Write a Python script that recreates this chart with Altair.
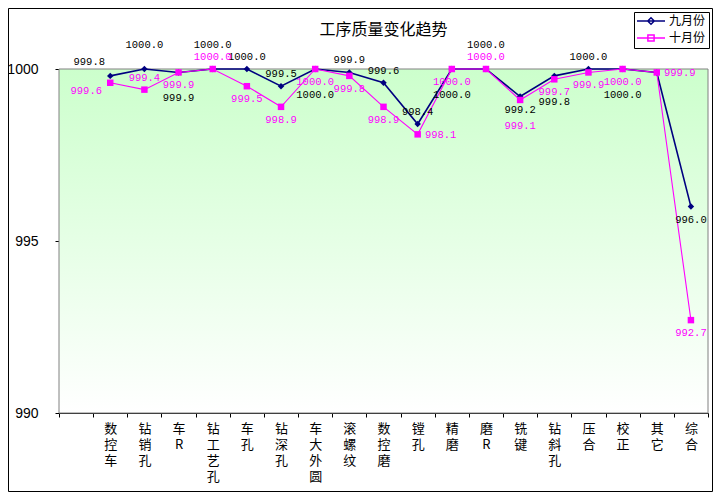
import altair as alt
import pandas as pd

# ---------------- data ----------------
categories = ["数控车", "钻销孔", "车R", "钻工艺孔", "车孔", "钻深孔", "车大外圆", "滚螺纹", "数控磨",
              "镗孔", "精磨", "磨R", "铣键", "钻斜孔", "压合", "校正", "其它", "综合"]
sep_values = [999.8, 1000.0, 999.9, 1000.0, 1000.0, 999.5, 1000.0, 999.9, 999.6,
              998.4, 1000.0, 1000.0, 999.2, 999.8, 1000.0, 1000.0, 999.9, 996.0]
oct_values = [999.6, 999.4, 999.9, 1000.0, 999.5, 998.9, 1000.0, 999.8, 998.9,
              998.1, 1000.0, 1000.0, 999.1, 999.7, 999.9, 1000.0, 999.9, 992.7]
series_names = ["九月份", "十月份"]
y_ticks = [990, 995, 1000]

# label placement codes (style only)
sep_label_pos = ["al", "aa", "bb", "aa", "a", "a", "bb", "a", "a",
                 "a", "bb", "aa", "b", "bb", "a", "bb", "none", "b"]
oct_label_pos = ["l", "a", "b", "a", "b", "b", "b", "b", "b",
                 "r", "b", "a", "bb", "b", "b", "b", "r", "b"]
OFFSETS = {"a": (0, -12), "aa": (0, -24), "b": (0, 13), "bb": (0, 26),
           "al": (-21, -14), "l": (-24, 8), "r": (23, 1)}

COLORS = ["#000080", "#FF00FF"]
LEGEND_SHAPES = [
    "M-2.8,0H2.8M-0.65,0L0,-0.65L0.65,0L0,0.65Z",
    "M-2.8,0H2.8M-0.62,-0.62H0.62V0.62H-0.62Z",
]

rows = []
for s, vals, poss in [(series_names[0], sep_values, sep_label_pos),
                      (series_names[1], oct_values, oct_label_pos)]:
    for c, v, p in zip(categories, vals, poss):
        rows.append({"cat": c, "series": s, "value": v, "label": f"{v:.1f}", "pos": p})
df = pd.DataFrame(rows)

x_domain = [" "] + categories
color_scale = alt.Scale(domain=series_names, range=COLORS)

x_enc = alt.X("cat:N", scale=alt.Scale(type="band", domain=x_domain, paddingInner=0, paddingOuter=0),
              axis=alt.Axis(title=None, labelAngle=0, labelExpr="split(datum.label, '')",
                            labelFont="Noto Sans CJK SC", labelFontSize=13, labelLineHeight=16,
                            labelBaseline="top", labelPadding=5, tickBand="extent",
                            tickSize=4, tickColor="black", domainColor="black",
                            labelColor="black", grid=False))
y_enc = alt.Y("value:Q", scale=alt.Scale(domain=[990, 1000], nice=False, zero=False),
              axis=alt.Axis(title=None, values=y_ticks, format="d", labelFont="Liberation Sans",
                            labelFontSize=14, labelPadding=17, tickSize=4, tickColor="black",
                            domainColor="black", labelColor="black", grid=False))

base = alt.Chart(df)

# background plot area with gradient
bg = alt.Chart(alt.Data(values=[{}])).mark_rect(
    color=alt.Gradient(gradient="linear",
                       stops=[alt.GradientStop(color="#CCFFCC", offset=0),
                              alt.GradientStop(color="#FFFFFF", offset=1)],
                       x1=0, x2=0, y1=0, y2=1),
    stroke="#808080", strokeWidth=1
).encode(x=alt.value(0), x2=alt.value("width"), y=alt.value(0), y2=alt.value("height"))

frame = alt.Chart(alt.Data(values=[{}])).mark_rect(
    fillOpacity=0, stroke="black", strokeWidth=1
).encode(x=alt.value(-50.5), x2=alt.value(653.5), y=alt.value(-60.5), y2=alt.value(422.5))

layers = [frame, bg]

widths = [1.6, 1.1]
shapes = ["diamond", "square"]
for i, s in enumerate(series_names):
    sub = base.transform_filter(alt.datum.series == s)
    layers.append(sub.mark_line(color=COLORS[i], strokeWidth=widths[i]).encode(x=x_enc, y=y_enc))
for i, s in enumerate(series_names):
    sub = base.transform_filter(alt.datum.series == s)
    layers.append(sub.mark_point(shape=shapes[i], filled=True, opacity=1, size=42,
                                 color=COLORS[i]).encode(x=x_enc, y=y_enc))

label_colors = ["black", "#FF00FF"]
for i, s in enumerate(series_names):
    for code, (dx, dy) in OFFSETS.items():
        sub = base.transform_filter((alt.datum.series == s) & (alt.datum.pos == code))
        layers.append(sub.mark_text(font="Liberation Mono", fontSize=10.5, dx=dx, dy=dy,
                                    align="center", baseline="middle",
                                    color=label_colors[i]).encode(x=x_enc, y=y_enc, text="label:N"))

LEG = dict(orient="none", legendX=575, legendY=-57, title=None)
legend_df = pd.DataFrame({"series": series_names})
leg = alt.Chart(legend_df).mark_point(filled=True, opacity=0).encode(
    fill=alt.Fill("series:N", scale=color_scale, title=None,
                  legend=alt.Legend(**LEG,
                                    strokeColor="black", fillColor="white", padding=3,
                                    labelFont="Noto Sans CJK SC", labelFontSize=12,
                                    symbolOffset=8, labelOffset=12, symbolOpacity=1,
                                    symbolStrokeWidth=1.5, symbolSize=100, rowPadding=3,
                                    cornerRadius=0)),
    stroke=alt.Stroke("series:N", scale=color_scale, title=None, legend=alt.Legend(**LEG)),
    shape=alt.Shape("series:N", scale=alt.Scale(domain=series_names, range=LEGEND_SHAPES), title=None,
                    legend=alt.Legend(**LEG)),
)
layers.append(leg)

chart = alt.layer(*layers).properties(
    width=649, height=344,
    title=alt.TitleParams("工序质量变化趋势", font="Noto Sans CJK SC", fontSize=16,
                          fontWeight="normal", color="black", anchor="middle", offset=0, dy=30),
    autosize=alt.AutoSizeParams(type="none"),
    padding={"left": 51, "top": 61, "right": 5, "bottom": 79},
    background="white",
).configure_view(stroke=None)

chart.save("out.html", embed_options={"renderer": "svg", "actions": False})
